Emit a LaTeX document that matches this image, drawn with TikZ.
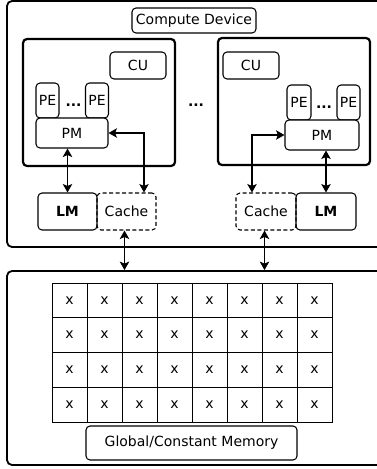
\documentclass[tikz,border=0pt]{standalone}
\usepackage{fontspec}
\setmainfont{DejaVu Sans}
\usetikzlibrary{arrows.meta}
\begin{document}
\begin{tikzpicture}[x=1pt,y=-1pt,
  font=\fontsize{14}{16}\selectfont,
  outerbox/.style={draw, line width=1.8pt, rounded corners=5pt, inner sep=0pt},
  clusterbox/.style={draw, line width=2.2pt, rounded corners=4pt, inner sep=0pt},
  smallbox/.style={draw, line width=1.05pt, rounded corners=4pt, inner sep=0pt},
  dashbox/.style={smallbox, dashed, dash pattern=on 4pt off 2.5pt},
  cell/.style={draw, line width=1pt, minimum width=35pt, minimum height=34.75pt, inner sep=0pt},
  dotstext/.style={font=\fontsize{14}{16}\selectfont\bfseries, inner sep=0pt},
  arr/.style={line width=1.1pt, {Stealth[length=8.5pt,width=9.5pt,inset=2pt]}-{Stealth[length=8.5pt,width=9.5pt,inset=2pt]}}
]
\clip (0,0) rectangle (377,469);
\fill[white] (0,0) rectangle (377,469);
% outer boxes
\node[outerbox, minimum width=383pt, minimum height=246pt] (device) at (198.5,124) {};
\node[outerbox, minimum width=383pt, minimum height=194pt] (mem) at (198.5,368) {};
\node[smallbox, minimum width=124pt, minimum height=25pt] (title) at (194,20.5) {Compute Device};
% clusters
\node[clusterbox, minimum width=152pt, minimum height=127pt] (clL) at (99,102.5) {};
\node[clusterbox, minimum width=152pt, minimum height=127pt] (clR) at (294,101.5) {};
\node[dotstext, anchor=base] (between) at (196,106) {...};
% left cluster
\node[smallbox, minimum width=56pt, minimum height=27pt] (cuL) at (138,65.5) {CU};
\node[smallbox, minimum width=23pt, minimum height=35pt] (peL1) at (47.5,100.5) {PE};
\node[smallbox, minimum width=23pt, minimum height=35pt] (peL2) at (97,100.5) {PE};
\node[dotstext, anchor=base] (dotsL) at (73.5,106) {...};
\node[smallbox, minimum width=72pt, minimum height=30pt, fill=white] (pmL) at (72,133) {PM};
% right cluster
\node[smallbox, minimum width=56pt, minimum height=27pt] (cuR) at (251,65.5) {CU};
\node[smallbox, minimum width=24pt, minimum height=35pt] (peR1) at (299,102.5) {PE};
\node[smallbox, minimum width=23pt, minimum height=35pt] (peR2) at (348.5,102.5) {PE};
\node[dotstext, anchor=base] (dotsR) at (324,108) {...};
\node[smallbox, minimum width=74pt, minimum height=30pt, fill=white] (pmR) at (322,135) {PM};
% local memories and caches
\node[smallbox, minimum width=59pt, minimum height=37pt] (lmL) at (67.5,211.5) {\textbf{LM}};
\node[dashbox, minimum width=59pt, minimum height=37pt] (caL) at (126.5,211.5) {Cache};
\node[dashbox, minimum width=60pt, minimum height=37pt] (caR) at (266,211.5) {Cache};
\node[smallbox, minimum width=60pt, minimum height=37pt] (lmR) at (326,211.5) {\textbf{LM}};
% connectors
\draw[arr] (pmL.south -| lmL.north) -- (lmL.north);
\draw[arr] (pmL.east) -| ([xshift=17.5pt]caL.north);
\draw[arr] (pmR.west) -| ([xshift=-14pt]caR.north);
\draw[arr] (pmR.south -| lmR.north) -- (lmR.north);
\draw[arr] ([xshift=-2pt]caL.south) -- ([xshift=-2pt]caL.south |- mem.north);
\draw[arr] ([xshift=-1.5pt]caR.south) -- ([xshift=-1.5pt]caR.south |- mem.north);
% grid
\foreach \r in {0,...,3} {
  \foreach \c in {0,...,7} {
    \node[cell] (g-\r-\c) at ({69.5+35*\c},{300.4+34.75*\r}) {x};
  }
}
\node[smallbox, minimum width=211pt, minimum height=34pt] (gmem) at (191.5,443) {Global/Constant Memory};
\end{tikzpicture}
\end{document}
